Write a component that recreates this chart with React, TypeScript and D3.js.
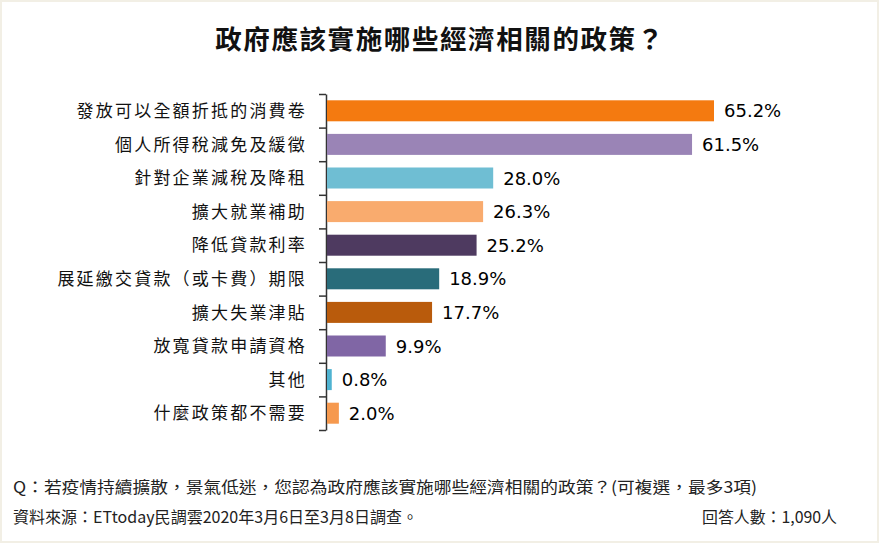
import React, { useEffect, useRef } from "react";
import * as d3 from "d3";

const categories = [
  "發放可以全額折抵的消費卷",
  "個人所得稅減免及緩徵",
  "針對企業減稅及降租",
  "擴大就業補助",
  "降低貸款利率",
  "展延繳交貸款（或卡費）期限",
  "擴大失業津貼",
  "放寬貸款申請資格",
  "其他",
  "什麼政策都不需要",
];
const values = [65.2, 61.5, 28.0, 26.3, 25.2, 18.9, 17.7, 9.9, 0.8, 2.0];
const colors = [
  "#f47a10",
  "#9a84b6",
  "#6fbed3",
  "#f9ab6e",
  "#4e3a60",
  "#296c7a",
  "#b95b0c",
  "#8066a5",
  "#4fb3d1",
  "#f6994e",
];

const title = "政府應該實施哪些經濟相關的政策？";
const question = "Q：若疫情持續擴散，景氣低迷，您認為政府應該實施哪些經濟相關的政策？(可複選，最多3項)";
const source = "資料來源：ETtoday民調雲2020年3月6日至3月8日調查。";
const respondents = "回答人數：1,090人";

const W = 879;
const H = 543;
const CJK = "'Noto Sans CJK TC', 'Noto Sans', sans-serif";

const App = () => {
  const ref = useRef<SVGSVGElement>(null);

  useEffect(() => {
    const svg = d3.select(ref.current);
    svg.selectAll("*").remove();

    svg.append("rect").attr("width", W).attr("height", H).attr("fill", "#fff");
    svg.append("rect")
      .attr("x", 1).attr("y", 1).attr("width", W - 2).attr("height", H - 2)
      .attr("fill", "none").attr("stroke", "#f2efe5").attr("stroke-width", 2);

    const top = 94;
    const bottom = 430;
    const axisX = 326;

    const y = d3.scaleBand<string>()
      .domain(categories)
      .range([top, bottom])
      .paddingInner(0.375)
      .paddingOuter(0.1875);

    const x = d3.scaleLinear().domain([0, 65.2]).range([axisX + 1, 714]);

    // boundary ticks between categories
    const tickScale = d3.scaleLinear().domain([0, categories.length]).range([top, bottom]);
    const axis = svg.append("g")
      .attr("transform", `translate(${axisX},0)`)
      .call(
        d3.axisLeft(tickScale)
          .tickValues(d3.range(categories.length + 1))
          .tickFormat(() => "")
          .tickSize(7)
          .tickSizeOuter(0)
      );
    axis.select(".domain").attr("stroke", "#333").attr("stroke-width", 1.5);
    axis.selectAll(".tick line").attr("stroke", "#333").attr("stroke-width", 1.5);

    svg.append("g")
      .selectAll("rect")
      .data(values)
      .join("rect")
      .attr("x", x(0))
      .attr("y", (d, i) => y(categories[i])!)
      .attr("width", (d) => x(d) - x(0))
      .attr("height", y.bandwidth())
      .attr("fill", (d, i) => colors[i]);

    svg.append("g")
      .selectAll("text")
      .data(categories)
      .join("text")
      .attr("x", 307)
      .attr("y", (d) => y(d)! + y.bandwidth() / 2)
      .attr("dy", "0.36em")
      .attr("text-anchor", "end")
      .attr("font-family", CJK)
      .attr("font-size", 17)
      .attr("letter-spacing", 2.2)
      .attr("fill", "#111")
      .text((d) => d);

    svg.append("g")
      .selectAll("text")
      .data(values)
      .join("text")
      .attr("x", (d) => x(d) + 10)
      .attr("y", (d, i) => y(categories[i])! + y.bandwidth() / 2)
      .attr("dy", "0.37em")
      .attr("font-family", "'DejaVu Sans', sans-serif")
      .attr("font-size", 18)
      .attr("fill", "#000")
      .text((d) => d.toFixed(1) + "%");

    svg.append("text")
      .attr("x", 440)
      .attr("y", 49)
      .attr("text-anchor", "middle")
      .attr("font-family", CJK)
      .attr("font-size", 26.5)
      .attr("font-weight", "bold")
      .attr("letter-spacing", 1.6)
      .attr("fill", "#111")
      .text(title);

    const foot = [
      { t: question, x: 13, y: 493, len: 744 },
      { t: source, x: 13, y: 523, len: 405 },
      { t: respondents, x: 702, y: 523, len: 135 },
    ];
    svg.append("g")
      .selectAll("text")
      .data(foot)
      .join("text")
      .attr("x", (d) => d.x)
      .attr("y", (d) => d.y)
      .attr("font-family", CJK)
      .attr("font-size", 16)
      .attr("fill", "#222")
      .attr("textLength", (d) => d.len)
      .attr("lengthAdjust", "spacingAndGlyphs")
      .text((d) => d.t);
  }, []);

  return (
    <svg
      ref={ref}
      width={W}
      height={H}
      style={{ position: "absolute", left: 0, top: 0, display: "block" }}
    />
  );
};

export default App;
